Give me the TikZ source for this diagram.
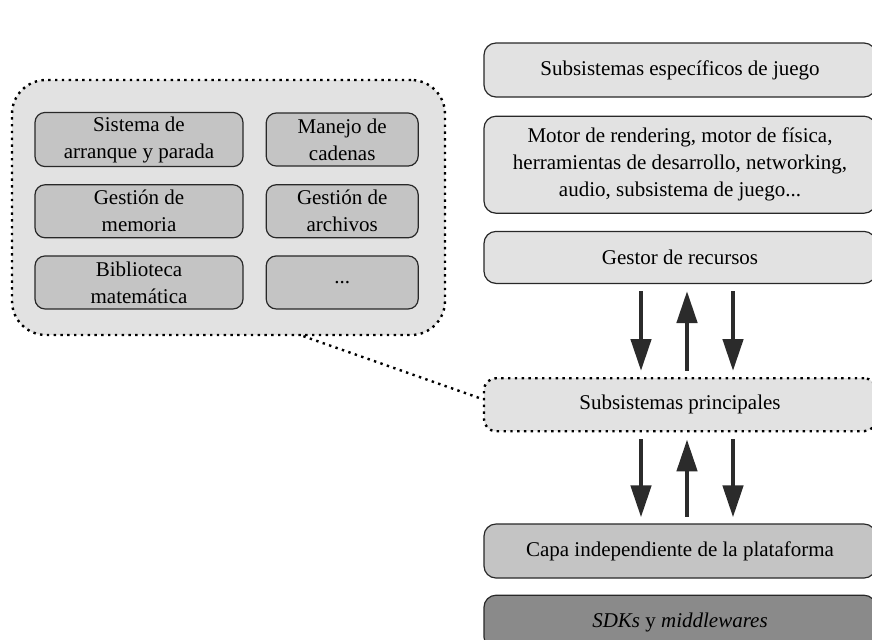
\documentclass[tikz,border=0pt]{standalone}
\usepackage{fontspec}
\setmainfont{Liberation Serif}
\usetikzlibrary{arrows.meta,positioning,calc}
\definecolor{palegrey}{RGB}{226,226,226}
\definecolor{midgrey}{RGB}{196,196,196}
\definecolor{darkgrey}{RGB}{138,138,138}
\definecolor{framegrey}{RGB}{40,40,40}
\definecolor{arrowgrey}{RGB}{43,43,43}

\begin{document}
\begin{tikzpicture}[x=0.5pt, y=-0.5pt, every node/.style={font=\fontsize{10.5}{13.5}\selectfont}]
    \tikzset{
      layer/.style={draw=framegrey, line width=0.6pt, rounded corners=6pt, minimum width=196pt, minimum height=27pt, align=center, inner sep=2pt},
      module/.style={draw=framegrey, line width=0.6pt, rounded corners=5pt, fill=midgrey, minimum height=26.5pt, align=center, inner sep=2pt},
      dotline/.style={draw=black, line width=1.2pt, dash pattern=on 1.2pt off 2.2pt},
      flowdown/.style={-{Triangle[width=10pt,length=16pt]}, line width=2.3pt, draw=arrowgrey, shorten <=3.5pt, shorten >=3pt},
      flowup/.style={{Triangle[width=10pt,length=16pt]}-, line width=2.3pt, draw=arrowgrey, shorten <=3.5pt, shorten >=3pt}
    }
    \useasboundingbox (0,0) rectangle (872,639);
    \clip (0,0) rectangle (872,639);

    % pila de capas
    \node[layer, fill=palegrey] (juego) at (680,70) {Subsistemas específicos de juego};
    \node[layer, fill=palegrey, minimum height=48.5pt, below=9pt of juego] (motor) {Motor de rendering, motor de física,\\herramientas de desarrollo, networking,\\audio, subsistema de juego...};
    \node[layer, fill=palegrey, minimum height=26pt, below=8.5pt of motor] (gestor) {Gestor de recursos};
    \node[layer, fill=palegrey, minimum height=26.5pt, below=46.5pt of gestor, dotline] (prin) {Subsistemas principales};
    \node[layer, fill=midgrey, below=45.5pt of prin] (capa) {Capa independiente de la plataforma};
    \node[layer, fill=darkgrey, below=8pt of capa] (sdk) {\textit{SDKs} y \textit{middlewares}};

    \foreach \dx/\sty in {-19.5pt/flowdown, 3.5pt/flowup, 26.5pt/flowdown} {
      \draw[\sty] ([xshift=\dx]gestor.south) -- ([xshift=\dx]prin.north);
      \draw[\sty] ([xshift=\dx]prin.south) -- ([xshift=\dx]capa.north);
    }

    % detalle de los subsistemas principales
    \node[dotline, fill=palegrey, rounded corners=17pt, minimum width=216.5pt, minimum height=127.5pt] (grupo) at (228.5,207.5) {};
    \node[module, minimum width=104pt] (arranque) at (139,139.5) {Sistema de\\arranque y parada};
    \node[module, minimum width=76pt, right=11pt of arranque] (cadenas) {Manejo de\\cadenas};
    \node[module, minimum width=104pt, below=8.5pt of arranque] (memoria) {Gestión de\\memoria};
    \node[module, minimum width=76pt, right=11pt of memoria] (archivos) {Gestión de\\archivos};
    \node[module, minimum width=104pt, below=8.5pt of memoria] (mates) {Biblioteca\\matemática};
    \node[module, minimum width=76pt, right=11pt of mates] (otros) {...};

    \coordinate (tap) at ($(grupo.south west)!0.672!(grupo.south east)$);
    \draw[dotline] (tap) -- ([yshift=2.75pt]prin.west);
  \end{tikzpicture}
\end{document}
